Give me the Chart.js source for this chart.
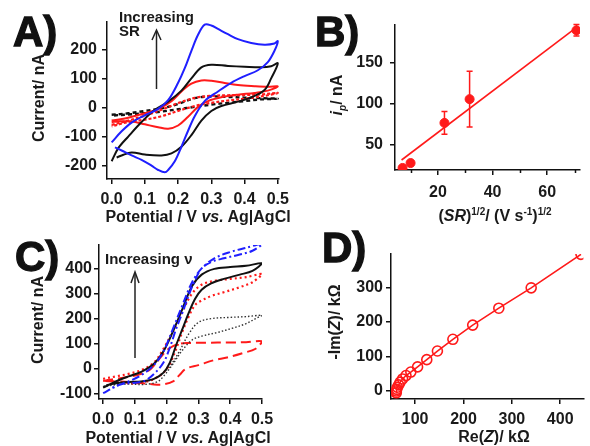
<!DOCTYPE html>
<html lang="en">
<head>
<meta charset="UTF-8">
<title>CV panels</title>
<script src="https://cdn.jsdelivr.net/npm/chart.js@4/dist/chart.umd.min.js"></script>
<style>
  body { margin:0; background:#fff; }
  #page { position:relative; width:590px; height:446px; overflow:hidden;
          font-family:"Liberation Sans", Arial, sans-serif; font-weight:bold; color:#1a1a1a; }
  canvas { position:absolute; }
  .t { position:absolute; white-space:nowrap; line-height:1; }
  .panel { font-size:42px; color:#111; -webkit-text-stroke:1.3px #111; }
  .ax { font-size:16px; }
  .yt { transform:translate(-50%,-50%) rotate(-90deg); }
  .xt { transform:translateX(-50%); }
  .note { font-size:15px; }
  sup, sub { font-size:10px; line-height:0; }
  svg { position:absolute; left:0; top:0; }
</style>
</head>
<body>
<div id="page">
  <canvas id="cA" width="295" height="225" style="left:0;top:0"></canvas>
  <canvas id="cB" width="295" height="225" style="left:295px;top:0"></canvas>
  <canvas id="cC" width="295" height="221" style="left:0;top:225px"></canvas>
  <canvas id="cD" width="295" height="221" style="left:295px;top:225px"></canvas>

  <div class="t panel" style="left:13px;top:11px">A)</div>
  <div class="t panel" style="left:315px;top:11px">B)</div>
  <div class="t panel" style="left:15px;top:236px">C)</div>
  <div class="t panel" style="left:322px;top:227px">D)</div>

  <div class="t ax xt" style="left:198px;top:209px">Potential / V <i>vs.</i> Ag|AgCl</div>
  <div class="t ax yt" style="left:39px;top:98px">Current/ nA</div>
  <div class="t ax yt" style="left:337px;top:95px"><i>i</i><sub><i>p</i></sub>/ nA</div>
  <div class="t ax xt" style="left:495px;top:208px">(<i>SR</i>)<sup>1/2</sup>/ (V s<sup>-1</sup>)<sup>1/2</sup></div>
  <div class="t ax yt" style="left:38px;top:320px">Current/ nA</div>
  <div class="t ax xt" style="left:178px;top:430px">Potential / V <i>vs.</i> Ag|AgCl</div>
  <div class="t ax yt" style="left:335px;top:322px">-Im(<i>Z</i>)/ kΩ</div>
  <div class="t ax xt" style="left:494px;top:429px">Re(<i>Z</i>)/ kΩ</div>

  <div class="t note" style="left:119px;top:9px">Increasing</div>
  <div class="t note" style="left:119px;top:23px">SR</div>
  <div class="t note" style="left:105px;top:251px">Increasing ν</div>

  <svg width="590" height="446">
    <g stroke="#222" stroke-width="1.5" fill="none">
      <line x1="156.5" y1="89" x2="156.5" y2="31"/>
      <polyline points="152,40 156.5,30 161,40"/>
      <line x1="135" y1="358" x2="135" y2="273"/>
      <polyline points="131,283 135,272 139,283"/>
    </g>
  </svg>
</div>

<script>
// ---- A) cyclic voltammograms vs scan rate (V, nA) ----
const aBlueV = [0, 0.03, 0.06, 0.1, 0.14, 0.17, 0.2, 0.22, 0.24, 0.26, 0.28, 0.3, 0.32, 0.35, 0.38, 0.42, 0.46, 0.49, 0.5,
                0.49, 0.47, 0.44, 0.4, 0.36, 0.32, 0.28, 0.25, 0.23, 0.21, 0.19, 0.17, 0.16, 0.14, 0.12, 0.09, 0.06, 0.03, 0.01];
const aBlueI = [-120, -82, -52, -27, -5, 25, 85, 135, 195, 250, 285, 282, 270, 252, 235, 222, 216, 220, 228,
                195, 156, 128, 108, 85, 55, 22, -30, -80, -135, -185, -215, -223, -215, -200, -180, -165, -148, -137];
const aBlackV = [0, 0.02, 0.05, 0.09, 0.13, 0.17, 0.21, 0.24, 0.27, 0.3, 0.35, 0.4, 0.45, 0.48, 0.5,
                 0.48, 0.46, 0.42, 0.38, 0.33, 0.3, 0.27, 0.24, 0.21, 0.18, 0.15, 0.1, 0.06, 0.03, 0.015];
const aBlackI = [-185, -140, -100, -50, -8, 20, 58, 100, 138, 147, 143, 140, 138, 142, 152,
                 100, 60, 35, 20, 5, -12, -45, -95, -135, -158, -165, -162, -155, -165, -172];
const aRedV = [0, 0.05, 0.1, 0.14, 0.18, 0.21, 0.24, 0.27, 0.3, 0.34, 0.38, 0.43, 0.47, 0.5,
               0.47, 0.43, 0.38, 0.33, 0.29, 0.26, 0.23, 0.2, 0.17, 0.14, 0.1, 0.06, 0.02, 0];
const aRedI = [-45, -35, -20, -5, 22, 55, 82, 93, 92, 84, 77, 73, 71, 72,
               58, 50, 44, 35, 22, 2, -32, -62, -73, -68, -58, -48, -48, -50];
const aSlowV = [0, 0.05, 0.1, 0.15, 0.2, 0.25, 0.3, 0.35, 0.4, 0.45, 0.5, 0.45, 0.4, 0.35, 0.3, 0.25, 0.2, 0.15, 0.1, 0.05, 0];
const aRedDotI = [-60, -45, -28, -8, 15, 33, 40, 42, 43, 45, 50, 38, 30, 24, 16, 5, -12, -30, -42, -50, -65];
const aBlackDotI = [-25, -20, -12, -3, 12, 32, 38, 36, 34, 32, 30, 28, 22, 16, 10, 2, -6, -14, -20, -24, -28];
const aTicksX = [0, 0.1, 0.2, 0.3, 0.4, 0.5];
const aTicksY = [-200, -100, 0, 100, 200];

// ---- B) peak current vs sqrt(scan rate) ----
const bX = [7.07, 10, 22.4, 31.6, 70.7];
const bY = [22, 28, 77, 106, 190];
const bErr = [0, 0, 14, 34, 7];
const bFitX = [6.7, 70.5];
const bFitY = [31.7, 193];
const bTicksX = [20, 40, 60];
const bMinorX = [10, 30, 50, 70];
const bTicksY = [50, 100, 150];

// ---- C) voltammograms vs nu ----
const cV = [0, 0.04, 0.08, 0.12, 0.16, 0.19, 0.22, 0.25, 0.28, 0.31, 0.35, 0.4, 0.45, 0.5,
            0.47, 0.43, 0.38, 0.34, 0.31, 0.29, 0.27, 0.25, 0.23, 0.21, 0.19, 0.16, 0.12, 0.08, 0.04, 0.01];
const cBlackI = [-75, -50, -30, -12, 20, 70, 150, 240, 330, 375, 398, 405, 410, 420,
                 390, 375, 358, 340, 315, 280, 225, 160, 95, 25, -15, -40, -50, -52, -57, -65];
const cRedDotI = [-40, -30, -20, -5, 25, 80, 150, 230, 300, 335, 350, 358, 365, 377,
                  345, 325, 305, 290, 272, 255, 210, 150, 80, 20, -15, -40, -55, -57, -50, -45];
const cBlueV = [0, 0.04, 0.08, 0.12, 0.16, 0.19, 0.22, 0.25, 0.28, 0.31, 0.35, 0.4, 0.45, 0.5,
                0.47, 0.43, 0.38, 0.34, 0.31, 0.29, 0.27, 0.25, 0.23, 0.21, 0.19, 0.16, 0.13, 0.1, 0.06, 0.02];
const cBlueI = [-97, -70, -50, -25, 15, 70, 160, 255, 345, 400, 440, 465, 482, 497,
                470, 455, 440, 425, 400, 355, 295, 225, 160, 85, 25, -20, -48, -55, -60, -80];
const cBlackDotV = [0, 0.05, 0.1, 0.15, 0.18, 0.21, 0.24, 0.27, 0.3, 0.34, 0.4, 0.45, 0.5,
                    0.48, 0.45, 0.41, 0.36, 0.31, 0.28, 0.25, 0.22, 0.19, 0.17, 0.13, 0.08, 0.03, 0];
const cBlackDotI = [-70, -62, -58, -45, -25, 10, 70, 140, 185, 200, 205, 208, 213,
                    200, 180, 163, 145, 130, 115, 75, 20, -30, -52, -62, -60, -62, -70];
const cRedDashV = [0, 0.04, 0.08, 0.12, 0.15, 0.17, 0.19, 0.21, 0.24, 0.27, 0.32, 0.4, 0.45, 0.5,
                   0.48, 0.44, 0.39, 0.35, 0.3, 0.26, 0.24, 0.22, 0.19, 0.17, 0.13, 0.08, 0.04, 0];
const cRedDashI = [-48, -40, -32, -20, 0, 29, 60, 83, 100, 103, 104, 105, 106, 109,
                   80, 63, 45, 35, 15, 0, -25, -50, -62, -63, -58, -52, -50, -48];
const cTicksX = [0, 0.1, 0.2, 0.3, 0.4, 0.5];
const cTicksY = [-100, 0, 100, 200, 300, 400];

// ---- D) Nyquist plot (kOhm) ----
const dRe = [61, 61, 62, 63, 66, 69, 74, 81, 91, 105, 124, 146, 178, 219, 273, 340, 443];
const dIm = [-5, 0, 5, 11, 18, 26, 35, 45, 55, 70, 91, 116, 150, 191, 240, 299, 396];
const dTicksX = [100, 200, 300, 400];
const dTicksY = [0, 100, 200, 300];

const FONT = '"Liberation Sans", Arial, sans-serif';
const RED = '#ff1a1a', BLUE = '#1f1fff', BLACK = '#111';

function pts(xs, ys) { return xs.map((x, i) => ({x, y: ys[i]})); }

function curve(xs, ys, color, width, dash) {
  return {data: pts(xs, ys), showLine: true, borderColor: color, borderWidth: width,
          borderDash: dash || [], pointRadius: 0, tension: 0.35, fill: false};
}

function axis(min, max, vals, fmt, size, pad) {
  return {
    type: 'linear', min, max,
    border: {color: '#111', width: 1.5},
    grid: {drawOnChartArea: false, drawTicks: true, tickLength: 5, color: '#111', lineWidth: 1.5},
    ticks: {color: '#1a1a1a', font: {family: FONT, size: 16, weight: 'bold'}, padding: pad,
            autoSkip: false, maxRotation: 0, callback: v => fmt(v)},
    afterBuildTicks: s => { s.ticks = vals.map(v => ({value: v})); },
    afterFit: s => { if (s.isHorizontal()) s.height = size; else s.width = size; }
  };
}

function makeChart(id, datasets, xAx, yAx, padding, plugins) {
  return new Chart(document.getElementById(id), {
    type: 'scatter',
    data: {datasets},
    options: {
      responsive: false, animation: false,
      layout: {padding},
      plugins: {legend: {display: false}, tooltip: {enabled: false}},
      scales: {x: xAx, y: yAx}
    },
    plugins: plugins || []
  });
}

const f1 = v => v.toFixed(1);
const f0 = v => String(v);

// error bars for B
const errorBars = {
  id: 'errorBars',
  afterDatasetsDraw(chart) {
    const {ctx, scales: {x, y}} = chart;
    ctx.save();
    ctx.strokeStyle = RED; ctx.lineWidth = 1.5;
    bX.forEach((v, i) => {
      const e = bErr[i];
      if (!e) return;
      const px = x.getPixelForValue(v);
      const top = y.getPixelForValue(bY[i] + e), bot = y.getPixelForValue(bY[i] - e);
      ctx.beginPath();
      ctx.moveTo(px, top); ctx.lineTo(px, bot);
      ctx.moveTo(px - 3, top); ctx.lineTo(px + 3, top);
      ctx.moveTo(px - 3, bot); ctx.lineTo(px + 3, bot);
      ctx.stroke();
    });
    ctx.restore();
  }
};

// short minor ticks on B's x axis
const minorTicks = {
  id: 'minorTicks',
  afterDraw(chart) {
    const {ctx, scales: {x}, chartArea} = chart;
    ctx.save();
    ctx.strokeStyle = '#111'; ctx.lineWidth = 1.5;
    bMinorX.forEach(v => {
      const px = Math.round(x.getPixelForValue(v)) + 0.5;
      ctx.beginPath();
      ctx.moveTo(px, chartArea.bottom);
      ctx.lineTo(px, chartArea.bottom + 3);
      ctx.stroke();
    });
    ctx.restore();
  }
};

makeChart('cA', [
    curve(aBlueV, aBlueI, BLUE, 2),
    curve(aBlackV, aBlackI, BLACK, 2),
    curve(aRedV, aRedI, RED, 2),
    curve(aSlowV, aRedDotI, RED, 2.2, [3, 2]),
    curve(aSlowV, aBlackDotI, BLACK, 2.4, [4, 3])
  ],
  axis(-0.014, 0.504, aTicksX, f1, 46, 6),
  axis(-246, 294, aTicksY, f0, 107, 5),
  {left: 0, top: 22, right: 11, bottom: 0});

makeChart('cB', [
    {data: pts(bX, bY), pointRadius: 4.5, pointBackgroundColor: RED, pointBorderColor: RED, showLine: false},
    {data: pts(bFitX, bFitY), showLine: true, borderColor: RED, borderWidth: 1.6, pointRadius: 0}
  ],
  axis(4.3, 72, bTicksX, f0, 55, 8),
  axis(19.5, 196.5, bTicksY, f0, 100, 7),
  {left: 0, top: 25, right: 10, bottom: 0},
  [errorBars, minorTicks]);

makeChart('cC', [
    curve(cBlueV, cBlueI, BLUE, 2, [8, 3, 2, 3]),
    curve(cV, cBlackI, BLACK, 2),
    curve(cV, cRedDotI, RED, 2.2, [2, 3]),
    curve(cBlackDotV, cBlackDotI, '#333', 1.4, [1.5, 2]),
    curve(cRedDashV, cRedDashI, RED, 2, [10, 5])
  ],
  axis(-0.013, 0.5, cTicksX, f1, 47, 6),
  axis(-120, 493, cTicksY, f0, 99, 2),
  {left: 0, top: 20, right: 33, bottom: 0});

makeChart('cD', [
    {data: pts(dRe, dIm), showLine: true, borderColor: RED, borderWidth: 1.6, tension: 0,
     pointRadius: 5, pointBorderWidth: 1.6, pointBorderColor: RED, pointBackgroundColor: 'rgba(0,0,0,0)'}
  ],
  axis(50, 448, dTicksX, f0, 47, 6),
  axis(-23, 397, dTicksY, f0, 96, 3),
  {left: 0, top: 29, right: 0, bottom: 0});
</script>
</body>
</html>
